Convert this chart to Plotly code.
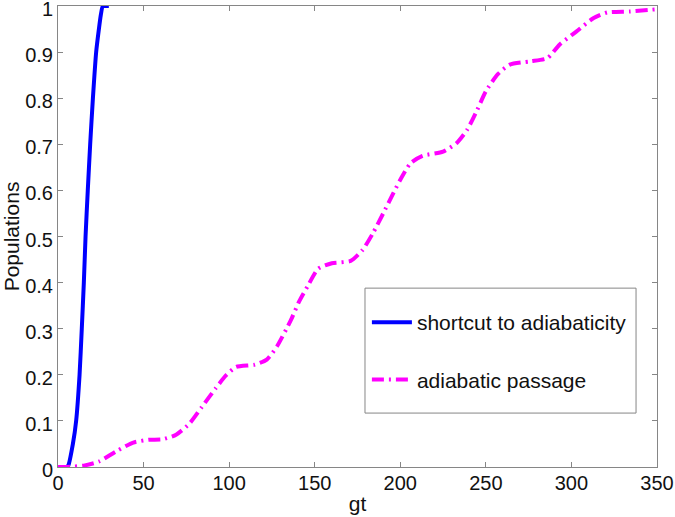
import plotly.graph_objects as go

# Shortcut to adiabaticity (blue solid)
sta_gt = [0, 5, 6, 8.7, 10.6, 12.6, 13.9, 15.1, 16.1, 17.4, 18.8, 20.4, 22.3, 23.9, 25, 26.2, 28, 29.7]
sta_pop = [0, 0, 0.003, 0.05, 0.1, 0.2, 0.3, 0.4, 0.5, 0.6, 0.7, 0.8, 0.9, 0.95, 0.98, 1.0, 1.0, 1.0]

# Adiabatic passage (magenta dash-dot)
ap_gt = [0, 5, 15, 24, 34, 44, 53, 61, 69, 77, 84, 92, 98, 104, 115, 122, 128, 136, 141, 146,
         152, 160, 171, 178, 184, 190, 195, 200, 206, 213, 225, 233, 239, 245, 250, 257, 264,
         276, 286, 293, 303, 313, 321, 334, 350]
ap_pop = [0, 0, 0.003, 0.012, 0.034, 0.053, 0.059, 0.060, 0.070, 0.095, 0.13, 0.17, 0.198, 0.217,
          0.222, 0.233, 0.262, 0.318, 0.36, 0.393, 0.43, 0.442, 0.447, 0.471, 0.507, 0.55, 0.587,
          0.623, 0.659, 0.675, 0.684, 0.703, 0.731, 0.775, 0.815, 0.852, 0.873, 0.880, 0.887,
          0.916, 0.945, 0.974, 0.986, 0.988, 0.993]

x_ticks = [0, 50, 100, 150, 200, 250, 300, 350]
y_ticks = [0, 0.1, 0.2, 0.3, 0.4, 0.5, 0.6, 0.7, 0.8, 0.9, 1]
y_ticklabels = ["0", "0.1", "0.2", "0.3", "0.4", "0.5", "0.6", "0.7", "0.8", "0.9", "1"]

FONT = "Liberation Sans, Arial, Helvetica, sans-serif"
AXIS_COLOR = "#868686"
TEXT_COLOR = "#111111"

fig = go.Figure()
fig.add_trace(go.Scatter(
    x=sta_gt, y=sta_pop, mode="lines", name="shortcut to adiabaticity",
    legendgroup="a",
    line=dict(color="#0000FF", width=4, shape="spline", smoothing=0.6),
))
fig.add_trace(go.Scatter(
    x=ap_gt, y=ap_pop, mode="lines", name="adiabatic passage",
    legendgroup="b",
    line=dict(color="#FF00FF", width=4, dash="12px,5px,2px,5px", shape="spline", smoothing=0.6),
))

axis_common = dict(
    showline=True, linecolor=AXIS_COLOR, linewidth=1, mirror="ticks",
    ticks="inside", ticklen=5, tickcolor=AXIS_COLOR, tickwidth=1,
    showgrid=False, zeroline=False, automargin=False,
    ticklabeloverflow="allow",
    tickfont=dict(family=FONT, size=20, color=TEXT_COLOR),
)

fig.update_layout(
    width=675, height=517,
    margin=dict(l=58, r=18, t=6, b=50),
    paper_bgcolor="white", plot_bgcolor="white",
    font=dict(family=FONT, size=21, color=TEXT_COLOR),
    xaxis=dict(range=[0, 350], tickvals=x_ticks, ticklabelstandoff=-2,
               title=dict(text="gt", standoff=3, font=dict(family=FONT, size=21, color=TEXT_COLOR)),
               **axis_common),
    yaxis=dict(range=[0, 1], tickvals=y_ticks, ticktext=y_ticklabels, ticklabelshift=3,
               title=dict(text="Populations", standoff=0, font=dict(family=FONT, size=21, color=TEXT_COLOR)),
               **axis_common),
    showlegend=True,
    legend=dict(
        x=0.5157, y=0.3577, xanchor="left", yanchor="top",
        bgcolor="rgba(0,0,0,0)", borderwidth=0,
        tracegroupgap=27, itemwidth=40,
        font=dict(family=FONT, size=21, color=TEXT_COLOR),
    ),
    shapes=[dict(type="rect", xref="paper", yref="paper",
                 x0=0.5125, x1=0.965, y0=0.117, y1=0.388,
                 line=dict(color=AXIS_COLOR, width=1), fillcolor="rgba(0,0,0,0)",
                 layer="above")],
)

fig.write_html(
    "out.html",
    config={"displayModeBar": False},
    post_script="document.body.style.margin='0px';document.body.style.overflow='hidden';",
)
